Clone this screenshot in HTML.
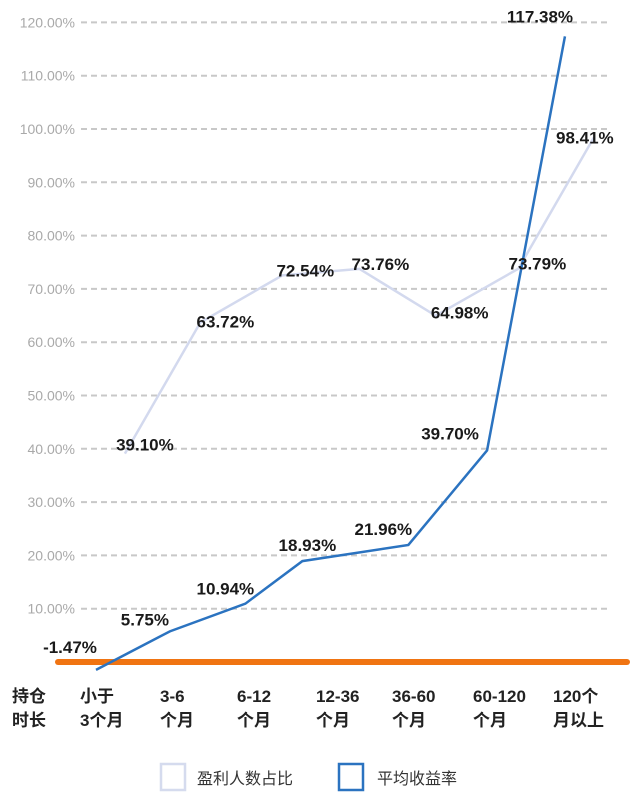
<!DOCTYPE html>
<html><head><meta charset="utf-8"><style>
body{margin:0;background:#fff;}
svg{display:block;font-family:"Liberation Sans","Noto Sans CJK SC",sans-serif;}
</style></head><body>
<svg width="640" height="808" viewBox="0 0 640 808">
<g id="grid"></g>
<g id="lines"></g>
<g id="labels"></g>
<g id="xaxis" font-weight="bold" font-size="17" fill="#222">
  <text x="12" y="702"><tspan x="12">持仓</tspan><tspan x="12" dy="24">时长</tspan></text>
</g>
<g font-size="16" fill="#333">
  <rect x="161" y="764" width="24" height="26" fill="none" stroke="#d5dbee" stroke-width="2.5"/>
  <text x="197" y="784">盈利人数占比</text>
  <rect x="339" y="764" width="24" height="26" fill="none" stroke="#2b73c0" stroke-width="2.5"/>
  <text x="377" y="784">平均收益率</text>
</g>
</svg>
<script>
const categories=[["小于","3个月"],["3-6","个月"],["6-12","个月"],["12-36","个月"],["36-60","个月"],["60-120","个月"],["120个","月以上"]];
const profitRatio=[39.10,63.72,72.54,73.76,64.98,73.79,98.41];
const avgReturn=[-1.47,5.75,10.94,18.93,21.96,39.70,117.38];
const profitSlots=[0.36,1.30,2.32,3.28,4.23,5.26,6.2];
const returnSlots=[0,0.92,1.86,2.57,3.89,4.87,5.84];
const yTicks=[10,20,30,40,50,60,70,80,90,100,110,120];
const ns="http://www.w3.org/2000/svg";
function y(v){return 662-v*5.33;}
function xp(s){return 96+s*80.3;}
function mk(tag,attrs,parent){const e=document.createElementNS(ns,tag);for(const k in attrs)e.setAttribute(k,attrs[k]);parent.appendChild(e);return e;}
const grid=document.getElementById('grid');
yTicks.forEach(t=>{
  const l=mk('line',{x1:81,x2:610,y1:y(t),y2:y(t),stroke:'#c8c8c8','stroke-width':2,'stroke-dasharray':'6 4'},grid);
  
  
  const tx=mk('text',{x:75,y:y(t)+5,'text-anchor':'end','font-size':14,fill:'#a9a9a9'},grid);
  tx.textContent=t.toFixed(2)+'%';
  
  
});
const lines=document.getElementById('lines');
const zero=mk('line',{x1:58,x2:627,y1:662,y2:662,stroke:'#f07412','stroke-width':6,'stroke-linecap':'round'},lines);


const p1=mk('polyline',{points:profitRatio.map((v,i)=>xp(profitSlots[i])+','+y(v)).join(' '),fill:'none',stroke:'#d3d9ee','stroke-width':2.5},lines);


const p2=mk('polyline',{points:avgReturn.map((v,i)=>xp(returnSlots[i])+','+y(v)).join(' '),fill:'none',stroke:'#2b73c0','stroke-width':2.5},lines);


const labels=document.getElementById('labels');
const pOff=[[20,-3],[25,5],[23,1],[21,1],[24,3],[19,1],[-9,6]];
const rOff=[[-26,-17],[-25,-6],[-20,-9],[5,-10],[-25,-10],[-37,-11],[-25,-14]];
function lab(v,x0,yv,off,name){
  const t=mk('text',{x:x0+off[0],y:yv+off[1],'text-anchor':'middle','font-size':17,'font-weight':'bold',fill:'#1a1a1a'},labels);
  t.textContent=v.toFixed(2)+'%';
  
  
}
profitRatio.forEach((v,i)=>lab(v,xp(profitSlots[i]),y(v),pOff[i],'profit-ratio-value-label'));
avgReturn.forEach((v,i)=>lab(v,xp(returnSlots[i]),y(v),rOff[i],'avg-return-value-label'));
const xa=document.getElementById('xaxis');
const cx=[80,160,237,316,392,473,553];
categories.forEach((c,i)=>{
  const t=mk('text',{x:cx[i],y:702},xa);
  const a=mk('tspan',{x:cx[i]},t);a.textContent=c[0];
  const b=mk('tspan',{x:cx[i],dy:24},t);b.textContent=c[1];
  
  
});
</script>
</body></html>
